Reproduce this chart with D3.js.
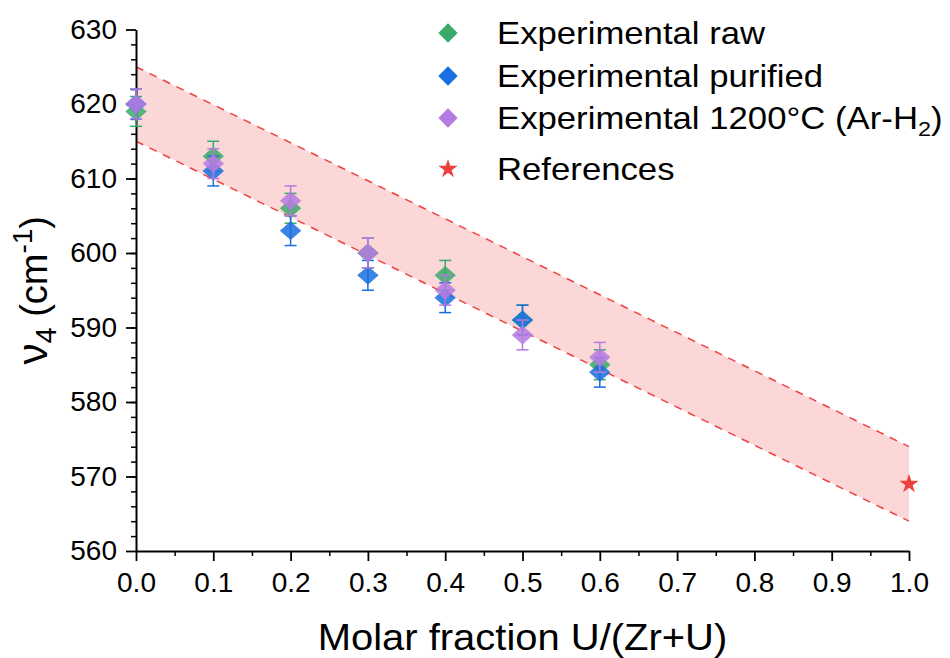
<!DOCTYPE html>
<meta charset="utf-8" />
<script src="https://d3js.org/d3.v7.js"></script>
<style>
  body { margin: 0; background: white; }
  text { font-family: "Liberation Sans", Arial, sans-serif; fill: black; }
</style>
<div id="my_dataviz"></div>
<script>
  // data
  const molarFraction = [0.0, 0.1, 0.2, 0.3, 0.4, 0.5, 0.6];
  const rawV4 = [619, 613, 606, 600, 597, 591, 585];
  const purifiedV4 = [620, 611, 603, 597, 594, 591, 584];
  const arH2V4 = [620, 612, 607, 600, 595, 589, 586];
  const errV4 = [2, 2, 2, 2, 2, 2, 2];

  const refFraction = [1.0];
  const refV4 = [569];

  // shaded band (upper / lower dashed limits)
  const bandFraction = [0.0, 1.0];
  const bandUpper = [625, 574];
  const bandLower = [615, 564];

  const xTicks = [0, 0.1, 0.2, 0.3, 0.4, 0.5, 0.6, 0.7, 0.8, 0.9, 1.0];
  const yTicks = [560, 570, 580, 590, 600, 610, 620, 630];

  const seriesNames = [
    "Experimental raw",
    "Experimental purified",
    "Experimental 1200°C (Ar-H",
    "References",
  ];
  const seriesColors = ["#3aaa6a", "#1a6fdf", "#b57be0", "#ef4040"];

  const margin = { top: 29.5, right: 41, bottom: 107, left: 136 },
    width = 950 - margin.left - margin.right,
    height = 658 - margin.top - margin.bottom;

  const svg = d3
    .select("#my_dataviz")
    .append("svg")
    .attr("width", 950)
    .attr("height", 658)
    .append("g")
    .attr("transform", `translate(${margin.left}, ${margin.top})`);

  const x = d3.scaleLinear().domain([0, 1]).range([0, width]);
  const y = d3.scaleLinear().domain([560, 630]).range([height, 0]);

  // band
  const band = bandFraction.map((f, i) => ({ f: f, lo: bandLower[i], hi: bandUpper[i] }));
  svg
    .append("path")
    .datum(band)
    .attr("fill", "#f04848")
    .attr("fill-opacity", 0.22)
    .attr(
      "d",
      d3.area().x((d) => x(d.f)).y0((d) => y(d.lo)).y1((d) => y(d.hi))
    );
  [bandUpper, bandLower].forEach(function (lim) {
    svg
      .append("path")
      .datum(bandFraction.map((f, i) => [f, lim[i]]))
      .attr("fill", "none")
      .attr("stroke", "#ef4040")
      .attr("stroke-width", 1.5)
      .attr("stroke-dasharray", "8,7")
      .attr("d", d3.line().x((d) => x(d[0])).y((d) => y(d[1])));
  });

  // minor ticks
  svg
    .append("g")
    .attr("transform", `translate(0, ${height})`)
    .call(
      d3.axisBottom(x).tickValues(d3.range(0.05, 1, 0.1)).tickSize(5).tickFormat("")
    )
    .call((g) => g.select(".domain").remove())
    .selectAll("line")
    .attr("stroke-width", 1.5);
  svg
    .append("g")
    .call(
      d3.axisLeft(y).tickValues(d3.range(562, 630, 2)).tickSize(5).tickFormat("")
    )
    .call((g) => g.select(".domain").remove())
    .selectAll("line")
    .attr("stroke-width", 1.5);

  // major axes
  const xAxis = svg
    .append("g")
    .attr("transform", `translate(0, ${height})`)
    .call(
      d3.axisBottom(x).tickValues(xTicks).tickSize(10).tickSizeOuter(0).tickPadding(11)
        .tickFormat(d3.format(".1f"))
    );
  const yAxis = svg
    .append("g")
    .call(
      d3.axisLeft(y).tickValues(yTicks).tickSize(10).tickSizeOuter(0).tickPadding(9)
    );
  [xAxis, yAxis].forEach(function (ax) {
    ax.select(".domain").attr("stroke-width", 2);
    ax.selectAll("line").attr("stroke-width", 1.8);
    ax.selectAll("text").style("font-size", "28px");
  });

  // series points with error bars
  const diamond = d3.symbol().type(d3.symbolSquare).size(230);
  const series = [rawV4, purifiedV4, arH2V4];
  series.forEach(function (vals, s) {
    const data = molarFraction.map((f, i) => ({ f: f, v: vals[i], e: errV4[i] }));
    const g = svg.append("g").attr("fill", seriesColors[s]).attr("stroke", seriesColors[s]);
    g.selectAll("line.bar")
      .data(data)
      .join("line")
      .attr("x1", (d) => x(d.f))
      .attr("x2", (d) => x(d.f))
      .attr("y1", (d) => y(d.v - d.e))
      .attr("y2", (d) => y(d.v + d.e))
      .attr("stroke-width", 1.5);
    [-1, 1].forEach(function (sign) {
      g.selectAll("line.cap" + sign)
        .data(data)
        .join("line")
        .attr("x1", (d) => x(d.f) - 6)
        .attr("x2", (d) => x(d.f) + 6)
        .attr("y1", (d) => y(d.v + sign * d.e))
        .attr("y2", (d) => y(d.v + sign * d.e))
        .attr("stroke-width", 1.5);
    });
    g.selectAll("path")
      .data(data)
      .join("path")
      .attr("d", diamond)
      .attr("stroke", "none")
      .attr("fill-opacity", 0.85)
      .attr("transform", (d) => `translate(${x(d.f)}, ${y(d.v)}) scale(1, 0.88) rotate(45)`);
  });

  // references
  const star = d3.symbol().type(d3.symbolStar).size(115);
  svg
    .selectAll("path.ref")
    .data(refFraction.map((f, i) => ({ f: f, v: refV4[i] })))
    .join("path")
    .attr("d", star)
    .attr("fill", seriesColors[3])
    .attr("transform", (d) => `translate(${x(d.f)}, ${y(d.v)})`);

  // axis titles
  svg
    .append("text")
    .attr("text-anchor", "middle")
    .attr("x", width / 2)
    .attr("y", 620.5)
    .style("font-size", "37px")
    .attr("transform", `translate(${width / 2}, 0) scale(1.08, 1) translate(${-width / 2}, 0)`)
    .text("Molar fraction U/(Zr+U)");

  const yTitle = svg
    .append("text")
    .attr("text-anchor", "middle")
    .attr("transform", `translate(${47 - margin.left}, ${height / 2}) rotate(-90)`)
    .style("font-size", "38px");
  yTitle.append("tspan").style("font-size", "42px").text("\u03bd");
  yTitle.append("tspan").attr("dy", 9).style("font-size", "29px").text("4");
  yTitle.append("tspan").attr("dy", -9).text(" (cm");
  yTitle.append("tspan").attr("dy", -15).style("font-size", "28px").text("-1");
  yTitle.append("tspan").attr("dy", 15).text(")");

  // legend
  const legendRows = [33, 76, 118, 169];
  const legend = svg.append("g").attr("transform", `translate(${448 - margin.left}, ${-margin.top})`);
  legendRows.forEach(function (ly, i) {
    legend
      .append("path")
      .attr("d", i < 3 ? diamond : star)
      .attr("fill", seriesColors[i])
      .attr("transform", `translate(0, ${ly})` + (i < 3 ? " scale(0.9) rotate(45)" : ""));
    const t = legend
      .append("text")
      .attr("transform", `translate(49, ${ly + 11}) scale(1.12, 1)`)
      .style("font-size", "31px")
      .text(seriesNames[i]);
    if (i === 2) {
      t.append("tspan").attr("dy", 7).style("font-size", "21px").text("2");
      t.append("tspan").attr("dy", -7).text(")");
    }
  });
</script>
